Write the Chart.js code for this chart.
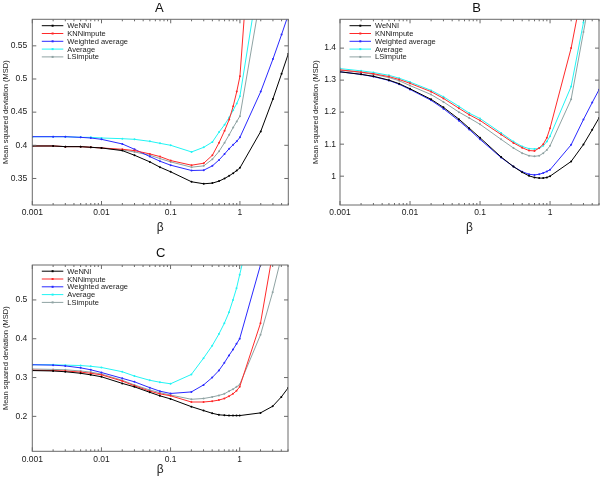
<!DOCTYPE html>
<html><head><meta charset="utf-8">
<script src="https://cdn.jsdelivr.net/npm/chart.js@4.4.0/dist/chart.umd.min.js"></script>
<style>
html,body{margin:0;padding:0;background:#fff;}
body{width:600px;height:477px;position:relative;overflow:hidden;}
canvas{position:absolute;}
</style></head><body>
<canvas id="cA" width="300" height="240" style="left:0;top:0"></canvas>
<canvas id="cB" width="300" height="240" style="left:300px;top:0"></canvas>
<canvas id="cC" width="300" height="237" style="left:0;top:240px"></canvas>
<script>
// ---- data ----
const betaValues = [0.001,0.002,0.003,0.005,0.007,0.01,0.02,0.03,0.05,0.07,0.1,0.2,0.3,0.4,0.5,0.6,0.7,0.8,0.9,1,2,3,4,5];
const seriesNames = ['WeNNI','KNNimpute','Weighted average','Average','LSimpute'];
const xTickValues = [0.001,0.01,0.1,1];

const aWeNNI    = [0.399,0.399,0.398,0.398,0.397,0.396,0.392,0.385,0.375,0.367,0.360,0.345,0.342,0.343,0.346,0.350,0.354,0.358,0.362,0.366,0.421,0.470,0.508,0.538];
const aKNN      = [0.399,0.399,0.398,0.398,0.397,0.396,0.394,0.392,0.387,0.383,0.377,0.370,0.373,0.385,0.404,0.422,0.439,0.459,0.481,0.504,0.935,1.2,1.4,1.6];
const aWeighted = [0.413,0.413,0.413,0.412,0.411,0.409,0.402,0.394,0.383,0.376,0.370,0.362,0.3625,0.369,0.378,0.387,0.395,0.401,0.406,0.412,0.481,0.530,0.567,0.597];
const aAverage  = [0.413,0.413,0.413,0.412,0.412,0.411,0.410,0.409,0.406,0.403,0.400,0.390,0.397,0.405,0.420,0.431,0.442,0.453,0.463,0.474,0.67,0.85,1.0,1.1];
const aLS       = [0.399,0.399,0.398,0.398,0.397,0.396,0.393,0.390,0.385,0.380,0.375,0.367,0.369,0.379,0.391,0.404,0.416,0.427,0.436,0.444,0.627,0.8,0.95,1.05];
const aYTicks   = [0.35,0.4,0.45,0.5,0.55];

const bWeNNI    = [1.326,1.318,1.312,1.300,1.289,1.273,1.240,1.215,1.178,1.150,1.120,1.060,1.030,1.012,1.001,0.996,0.994,0.994,0.996,1.000,1.046,1.099,1.145,1.182];
const bKNN      = [1.332,1.325,1.320,1.311,1.302,1.290,1.264,1.243,1.212,1.192,1.174,1.130,1.104,1.089,1.080,1.079,1.088,1.100,1.120,1.150,1.40,1.60,1.75,1.9];
const bWeighted = [1.326,1.318,1.311,1.299,1.287,1.271,1.237,1.211,1.173,1.146,1.115,1.058,1.030,1.014,1.006,1.004,1.006,1.010,1.015,1.020,1.098,1.177,1.230,1.270];
const bAverage  = [1.336,1.329,1.324,1.315,1.306,1.294,1.268,1.248,1.218,1.197,1.180,1.135,1.108,1.093,1.086,1.085,1.087,1.095,1.108,1.125,1.28,1.48,1.65,1.8];
const bLS       = [1.331,1.324,1.318,1.308,1.298,1.283,1.255,1.232,1.200,1.182,1.162,1.115,1.088,1.072,1.064,1.062,1.064,1.072,1.082,1.095,1.24,1.45,1.6,1.75];
const bYTicks   = [1,1.1,1.2,1.3,1.4];

const cWeNNI    = [0.318,0.317,0.315,0.311,0.307,0.302,0.285,0.276,0.262,0.253,0.245,0.225,0.215,0.208,0.204,0.203,0.202,0.202,0.202,0.202,0.209,0.226,0.250,0.273];
const cKNN      = [0.319,0.318,0.317,0.314,0.311,0.307,0.291,0.279,0.265,0.258,0.253,0.237,0.237,0.239,0.242,0.246,0.252,0.258,0.266,0.276,0.44,0.62,0.75,0.85];
const cWeighted = [0.333,0.332,0.330,0.325,0.320,0.313,0.298,0.289,0.274,0.265,0.259,0.263,0.281,0.300,0.318,0.338,0.357,0.372,0.387,0.400,0.59,0.75,0.85,0.95];
const cAverage  = [0.333,0.333,0.332,0.331,0.329,0.326,0.315,0.304,0.293,0.288,0.284,0.308,0.350,0.382,0.412,0.440,0.468,0.500,0.530,0.565,0.79,0.95,1.05,1.15];
const cLS       = [0.322,0.321,0.320,0.317,0.314,0.309,0.293,0.281,0.268,0.261,0.255,0.244,0.246,0.250,0.254,0.258,0.265,0.270,0.276,0.282,0.41,0.52,0.61,0.68];
const cYTicks   = [0.2,0.3,0.4,0.5];

const seriesColors = ['#000000','#ff2a2a','#2a2aff','#22f4f4','#8fa3a3'];
const FONT = '"Liberation Sans", Arial, sans-serif';

// ---- plugin: frame, inward ticks, legend, panel letter ----
const framePlugin = {
  id: 'frame',
  afterDatasetsDraw(chart, args, opts) {
    const {ctx, chartArea: {left, right, top, bottom}, scales: {x, y}} = chart;
    ctx.save();
    ctx.strokeStyle = '#6a6a6a';
    ctx.lineWidth = 1;
    ctx.strokeRect(left, top, right - left, bottom - top);
    ctx.beginPath();
    y.ticks.forEach(t => {
      const py = y.getPixelForValue(t.value);
      ctx.moveTo(left, py); ctx.lineTo(left + 4, py);
      ctx.moveTo(right, py); ctx.lineTo(right - 4, py);
    });
    for (let d = -3; d <= 0; d++) {
      for (let m = 1; m <= 9; m++) {
        const v = m * Math.pow(10, d);
        if (v > x.max + 1e-9) break;
        const px = x.getPixelForValue(v);
        const len = m === 1 ? 4 : 2;
        ctx.moveTo(px, bottom); ctx.lineTo(px, bottom - len);
        ctx.moveTo(px, top); ctx.lineTo(px, top + len);
      }
    }
    ctx.stroke();
    // legend
    ctx.font = '7.5px ' + FONT;
    ctx.textBaseline = 'middle';
    ctx.textAlign = 'left';
    chart.data.datasets.forEach((ds, i) => {
      const ly = top + opts.legendTop + i * 7.8;
      ctx.strokeStyle = ds.borderColor;
      ctx.lineWidth = 1;
      ctx.beginPath();
      ctx.moveTo(left + 9.5, ly); ctx.lineTo(left + 31, ly);
      ctx.stroke();
      ctx.fillStyle = ds.borderColor;
      ctx.fillRect(left + 19.3, ly - 1, 2, 2);
      ctx.fillStyle = '#1a1a1a';
      ctx.fillText(ds.label, left + 35, ly + 0.5);
    });
    // panel letter
    ctx.font = '13px ' + FONT;
    ctx.textAlign = 'center';
    ctx.fillStyle = '#111';
    ctx.fillText(opts.letter, (left + right) / 2 + opts.letterDx, opts.letterY);
    ctx.restore();
  }
};

function makePanel(id, letter, series, yMin, yMax, yTicks, cfg) {
  const datasets = series.map((vals, i) => ({
    label: seriesNames[i],
    data: betaValues.map((b, j) => ({x: b, y: vals[j]})),
    borderColor: seriesColors[i],
    backgroundColor: seriesColors[i],
    borderWidth: 1,
    pointRadius: 1,
    pointHoverRadius: 1,
    pointBorderWidth: 0,
    tension: 0
  }));
  new Chart(document.getElementById(id), {
    type: 'line',
    data: {datasets},
    plugins: [framePlugin],
    options: {
      responsive: false,
      animation: false,
      events: [],
      layout: {padding: cfg.padding},
      plugins: {
        legend: {display: false},
        tooltip: {enabled: false},
        frame: {letter, letterDx: cfg.letterDx, letterY: cfg.letterY, legendTop: cfg.legendTop}
      },
      scales: {
        x: {
          type: 'logarithmic',
          min: 0.001, max: 5,
          grid: {display: false, drawTicks: false},
          border: {display: false},
          afterBuildTicks: s => { s.ticks = xTickValues.map(v => ({value: v})); },
          afterFit: s => { s.height = cfg.xHeight; },
          ticks: {
            autoSkip: false, maxRotation: 0,
            padding: cfg.xTickPad,
            color: '#1a1a1a',
            font: {family: FONT, size: 8.5},
            callback: v => String(v)
          },
          title: {display: true, text: 'β', color: '#1a1a1a',
                  font: {family: FONT, size: 12}, padding: {top: 0, bottom: cfg.betaPad}}
        },
        y: {
          type: 'linear',
          min: yMin, max: yMax,
          grid: {display: false, drawTicks: false},
          border: {display: false},
          afterBuildTicks: s => { s.ticks = yTicks.map(v => ({value: v})); },
          afterFit: s => { s.width = cfg.yWidth; },
          ticks: {
            padding: cfg.yTickPad,
            color: '#1a1a1a',
            font: {family: FONT, size: 8.5},
            callback: v => String(+Number(v).toFixed(2))
          },
          title: {display: true, text: 'Mean squared deviation (MSD)', color: '#1a1a1a',
                  font: {family: FONT, size: 7.5}, padding: {top: 1, bottom: 0}}
        }
      }
    }
  });
}

makePanel('cA', 'A', [aWeNNI, aKNN, aWeighted, aAverage, aLS], 0.31, 0.59, aYTicks, {
  padding: {left: 0, right: 11.7, top: 19.3, bottom: 0},
  yWidth: 32.3, xHeight: 35, xTickPad: 2.2, yTickPad: 5, betaPad: 4.8,
  letterDx: -1, letterY: 8, legendTop: 6.4
});
makePanel('cB', 'B', [bWeNNI, bKNN, bWeighted, bAverage, bLS], 0.91, 1.49, bYTicks, {
  padding: {left: 10, right: 1, top: 19.3, bottom: 0},
  yWidth: 30, xHeight: 35, xTickPad: 2.2, yTickPad: 4, betaPad: 4.8,
  letterDx: 7, letterY: 8, legendTop: 6.4
});
makePanel('cC', 'C', [cWeNNI, cKNN, cWeighted, cAverage, cLS], 0.11, 0.59, cYTicks, {
  padding: {left: 0, right: 12, top: 25, bottom: 0},
  yWidth: 32.3, xHeight: 25.7, xTickPad: 3.6, yTickPad: 5, betaPad: 0,
  letterDx: 0.5, letterY: 13.3, legendTop: 6.2
});
</script>
</body></html>
